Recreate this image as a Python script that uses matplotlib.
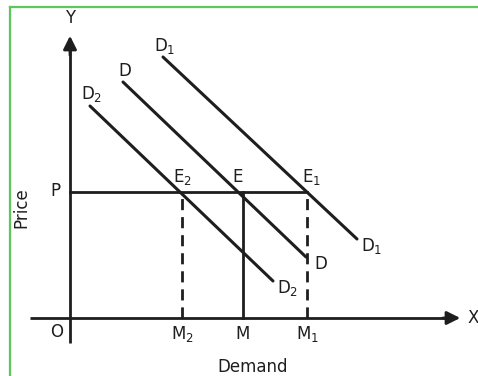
import matplotlib
matplotlib.use("Agg")
import matplotlib.pyplot as plt
from matplotlib.lines import Line2D

plt.rcParams['mathtext.default'] = 'regular'
plt.rcParams['font.family'] = ['DejaVu Sans']

# quantities (demand) on the X axis, O at zero
qty_labels = ["M$_2$", "M", "M$_1$"]
qty_values = [11.2, 17.3, 23.7]
qty_styles = ["--", "-", "--"]

# price level P
price_label = "P"
price_value = 12.65

# demand curves: (start, end) points
curve_names = ["D$_2$", "D", "D$_1$"]
curve_x = [[2.0, 20.3], [5.3, 23.6], [9.3, 28.7]]
curve_y = [[21.2, 3.7], [23.6, 6.1], [26.1, 7.9]]

eq_labels = ["E$_2$", "E", "E$_1$"]
eq_shift = [0.0, -0.5, 0.5]

INK = "#1e1e1e"

fig = plt.figure(figsize=(4.78, 3.76), dpi=100)
ax = fig.add_axes([0, 0, 1, 1])
ax.set_xlim(-7.0, 40.8)
ax.set_ylim(-5.8, 31.8)
ax.axis("off")

# green frame (top and left)
fig.add_artist(Line2D([10 / 478, 477 / 478], [1 - 7 / 376, 1 - 7 / 376],
                      transform=fig.transFigure, color="#5cc85c", lw=1.6))
fig.add_artist(Line2D([10 / 478, 10 / 478], [0, 1 - 7 / 376],
                      transform=fig.transFigure, color="#5cc85c", lw=1.6))

# axes with arrows
ax.plot([-4.0, 38.6], [0, 0], color=INK, lw=2, solid_capstyle="butt")
ax.annotate("", xy=(39.3, 0), xytext=(37.0, 0),
            arrowprops=dict(arrowstyle="-|>", color=INK, lw=2, mutation_scale=20))
ax.plot([0, 0], [-2.5, 27.5], color=INK, lw=2, solid_capstyle="butt")
ax.annotate("", xy=(0, 28.5), xytext=(0, 26.0),
            arrowprops=dict(arrowstyle="-|>", color=INK, lw=2, mutation_scale=20))

ax.text(40.3, 0, "X", fontsize=12, color=INK, ha="center", va="center")
ax.text(0, 30.0, "Y", fontsize=12, color=INK, ha="center", va="center")
ax.text(-1.3, -1.4, "O", fontsize=12, color=INK, ha="center", va="center")

# price line
ax.plot([0, qty_values[-1]], [price_value, price_value], color=INK, lw=2)
ax.text(-1.5, price_value, price_label, fontsize=12, color=INK, ha="center", va="center")

# demand curves
for xs, ys, name in zip(curve_x, curve_y, curve_names):
    ax.plot(xs, ys, color=INK, lw=2.2, solid_capstyle="round")
    ax.text(xs[0] + 0.2, ys[0] + 1.15, name, fontsize=12, color=INK, ha="center", va="center")
    ax.text(xs[1] + 1.5, ys[1] - 0.7, name, fontsize=12, color=INK, ha="center", va="center")

# quantity drop lines, equilibrium labels
for q, lab, st, el, dx in zip(qty_values, qty_labels, qty_styles, eq_labels, eq_shift):
    ax.plot([q, q], [0, price_value], color=INK, lw=2, linestyle=st,
            dashes=(4, 2.5) if st == "--" else (None, None))
    ax.text(q, -1.6, lab, fontsize=12, color=INK, ha="center", va="center")
    ax.text(q + dx, price_value + 1.45, el, fontsize=12, color=INK, ha="center", va="center")

ax.text(18.3, -4.9, "Demand", fontsize=12, color=INK, ha="center", va="center")
ax.text(-4.9, 11.0, "Price", fontsize=12, color=INK, ha="center", va="center", rotation=90)

fig.savefig("out.png", dpi=100)
